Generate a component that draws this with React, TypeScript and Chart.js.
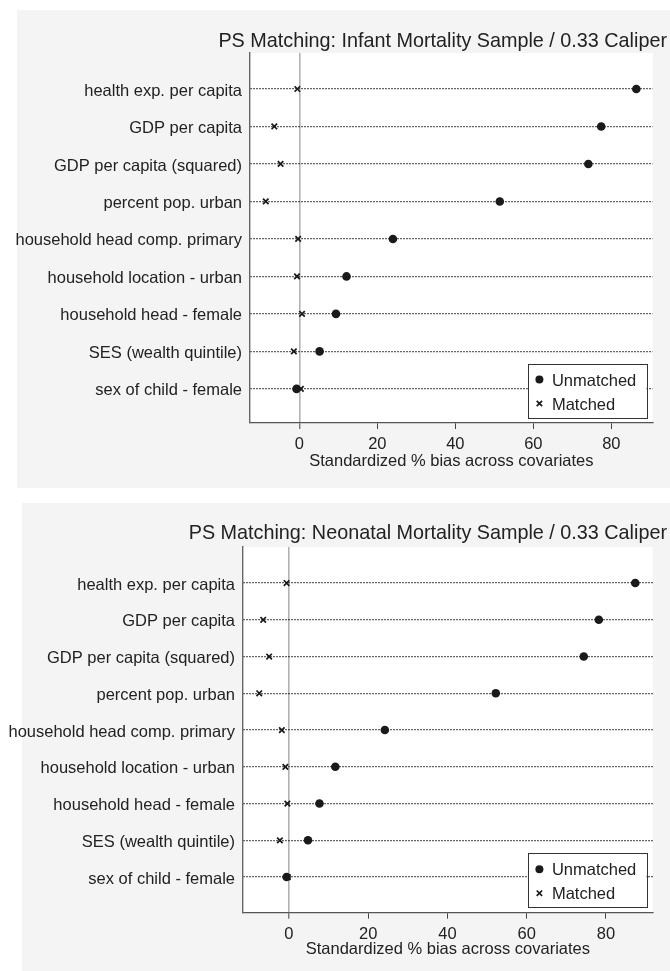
import React, { useEffect, useRef } from 'react';
import { Chart, registerables } from 'chart.js';

Chart.register(...registerables);

const covariates = [
  'health exp. per capita',
  'GDP per capita',
  'GDP per capita (squared)',
  'percent pop. urban',
  'household head comp. primary',
  'household location - urban',
  'household head - female',
  'SES (wealth quintile)',
  'sex of child - female',
];

const infantUnmatched = [86.4, 77.4, 74.1, 51.4, 24.0, 12.1, 9.4, 5.2, -0.7];
const infantMatched = [-0.5, -6.4, -4.8, -8.6, -0.3, -0.6, 0.7, -1.4, 0.4];
const neonatalUnmatched = [87.4, 78.2, 74.4, 52.2, 24.2, 11.7, 7.7, 4.8, -0.6];
const neonatalMatched = [-0.6, -6.5, -5.0, -7.5, -1.8, -0.9, -0.4, -2.3, -0.3];

const xTicks = [0, 20, 40, 60, 80];
const legendLabels = ['Unmatched', 'Matched'];
const infantTitle = 'PS Matching: Infant Mortality Sample / 0.33 Caliper';
const neonatalTitle = 'PS Matching: Neonatal Mortality Sample / 0.33 Caliper';
const xAxisTitle = 'Standardized % bias across covariates';

const FONT = "'Liberation Sans', Arial, Helvetica, sans-serif";
const TEXT = '#222';
const MARK = '#1a1a1a';
const PANEL_BG = '#f4f4f4';

const plotBg = {
  id: 'plotBg',
  beforeDraw(chart: any, _args: any, opts: any) {
    const { ctx, chartArea, width, height } = chart;
    ctx.save();
    ctx.fillStyle = PANEL_BG;
    ctx.fillRect(opts.left, opts.top, width - opts.left, height - opts.top - (opts.bottomGap || 0));
    ctx.fillStyle = '#ffffff';
    ctx.fillRect(chartArea.left, chartArea.top, chartArea.right - chartArea.left, chartArea.bottom - chartArea.top);
    ctx.restore();
  },
};

const legendBox = {
  id: 'legendBox',
  afterDatasetsDraw(chart: any) {
    const { ctx, chartArea } = chart;
    const w = 118.5;
    const h = 54;
    const right = chartArea.right - 6.3;
    const bottom = chartArea.bottom - 5.5;
    const left = right - w;
    const top = bottom - h;
    ctx.save();
    ctx.fillStyle = '#fff';
    ctx.fillRect(left, top, w, h);
    ctx.strokeStyle = '#333';
    ctx.lineWidth = 1;
    ctx.strokeRect(Math.round(left) + 0.5, Math.round(top) + 0.5, Math.round(w), Math.round(h));
    const mx = left + 11.5;
    const y1 = top + 16;
    const y2 = top + 40;
    ctx.fillStyle = MARK;
    ctx.beginPath();
    ctx.arc(mx, y1, 4, 0, Math.PI * 2);
    ctx.fill();
    ctx.strokeStyle = MARK;
    ctx.lineWidth = 1.7;
    const d = 2.7;
    ctx.beginPath();
    ctx.moveTo(mx - d, y2 - d);
    ctx.lineTo(mx + d, y2 + d);
    ctx.moveTo(mx + d, y2 - d);
    ctx.lineTo(mx - d, y2 + d);
    ctx.stroke();
    ctx.fillStyle = TEXT;
    ctx.font = `16.5px ${FONT}`;
    ctx.textBaseline = 'middle';
    ctx.textAlign = 'left';
    ctx.fillText(legendLabels[0], left + 24, y1 + 1.5);
    ctx.fillText(legendLabels[1], left + 24, y2 + 1.5);
    ctx.restore();
  },
};

type PanelProps = {
  title: string;
  unmatched: number[];
  matched: number[];
  height: number;
  bgLeft: number;
  bgTop: number;
  yAxisWidth: number;
  xAxisHeight: number;
  xMin: number;
  xMax: number;
  yMin: number;
  yMax: number;
  titleTop: number;
  titleBottom: number;
  xTitleBottom: number;
};

function Panel(p: PanelProps) {
  const ref = useRef<HTMLCanvasElement>(null);
  useEffect(() => {
    if (!ref.current) return;
    const chart = new Chart(ref.current, {
      type: 'scatter',
      data: {
        datasets: [
          {
            label: legendLabels[1],
            data: p.matched.map((v, i) => ({ x: v, y: i })),
            pointStyle: 'crossRot',
            pointRadius: 3.9,
            borderColor: MARK,
            backgroundColor: MARK,
            borderWidth: 1.7,
          },
          {
            label: legendLabels[0],
            data: p.unmatched.map((v, i) => ({ x: v, y: i })),
            pointStyle: 'circle',
            pointRadius: 4.3,
            borderWidth: 0,
            backgroundColor: MARK,
            borderColor: MARK,
          },
        ],
      },
      options: {
        responsive: false,
        animation: false,
        layout: { padding: { top: 0, left: 0, right: 3, bottom: 0 } },
        plugins: {
          legend: { display: false },
          tooltip: { enabled: false },
          plotBg: { left: p.bgLeft, top: p.bgTop },
          title: {
            display: true,
            text: p.title,
            align: 'end',
            color: TEXT,
            font: { family: FONT, size: 19.8, weight: 'normal', lineHeight: 1 },
            padding: { top: p.titleTop, bottom: p.titleBottom },
          },
        },
        scales: {
          x: {
            type: 'linear',
            position: 'bottom',
            min: p.xMin,
            max: p.xMax,
            afterBuildTicks: (s: any) => {
              s.ticks = xTicks.map((v) => ({ value: v }));
            },
            afterFit: (s: any) => {
              s.height = p.xAxisHeight;
            },
            grid: {
              display: true,
              drawOnChartArea: true,
              drawTicks: true,
              tickLength: 6,
              color: (c: any) => (c.tick && c.tick.value === 0 ? '#b2b2b2' : 'rgba(0,0,0,0)'),
              lineWidth: (c: any) => (c.tick && c.tick.value === 0 ? 1.6 : 1),
              tickColor: '#444',
              tickWidth: 1,
            },
            border: { display: true, color: '#555', width: 1.3 },
            ticks: {
              color: TEXT,
              font: { family: FONT, size: 16.5 },
              padding: 6,
              maxRotation: 0,
            },
            title: {
              display: true,
              text: xAxisTitle,
              color: TEXT,
              font: { family: FONT, size: 16.5 },
              padding: { top: 0, bottom: p.xTitleBottom },
            },
          },
          y: {
            type: 'linear',
            position: 'left',
            reverse: true,
            min: p.yMin,
            max: p.yMax,
            afterBuildTicks: (s: any) => {
              s.ticks = covariates.map((_, i) => ({ value: i }));
            },
            afterFit: (s: any) => {
              s.width = p.yAxisWidth;
            },
            grid: {
              display: true,
              drawOnChartArea: true,
              drawTicks: false,
              color: '#000',
              lineWidth: 1.2,
            },
            border: { display: true, color: '#666', width: 1.4, dash: [1.2, 1.8] },
            ticks: {
              color: TEXT,
              font: { family: FONT, size: 16.5 },
              padding: 8,
              labelOffset: 2,
              autoSkip: false,
              callback: (v: any) => covariates[v as number] ?? '',
            },
          },
          yr: {
            type: 'linear',
            position: 'right',
            display: true,
            grid: { display: false, drawTicks: false },
            border: { display: false },
            ticks: { display: false },
            afterFit: (s: any) => {
              s.width = 14.3;
            },
          },
        },
      } as any,
      plugins: [plotBg, legendBox],
    });
    return () => chart.destroy();
  }, []);
  return <canvas ref={ref} width={670} height={p.height} style={{ display: 'block' }} />;
}

export default function App() {
  return (
    <div style={{ position: 'absolute', left: 0, top: 0, width: 670, height: 971, overflow: 'hidden', background: '#fff' }}>
      <div style={{ position: 'absolute', left: 0, top: 0 }}>
        <Panel
          title={infantTitle}
          unmatched={infantUnmatched}
          matched={infantMatched}
          height={488}
          bgLeft={17}
          bgTop={10}
          yAxisWidth={250}
          xAxisHeight={65}
          xMin={-12.64}
          xMax={90.6}
          yMin={-0.96}
          yMax={8.91}
          titleTop={31.6}
          titleBottom={1.6}
          xTitleBottom={17.1}
        />
      </div>
      <div style={{ position: 'absolute', left: 0, top: 495 }}>
        <Panel
          title={neonatalTitle}
          unmatched={neonatalUnmatched}
          matched={neonatalMatched}
          height={476}
          bgLeft={22}
          bgTop={8}
          yAxisWidth={243}
          xAxisHeight={58.3}
          xMin={-11.6}
          xMax={91.8}
          yMin={-0.98}
          yMax={8.97}
          titleTop={29.1}
          titleBottom={3.1}
          xTitleBottom={12.1}
        />
      </div>
    </div>
  );
}
